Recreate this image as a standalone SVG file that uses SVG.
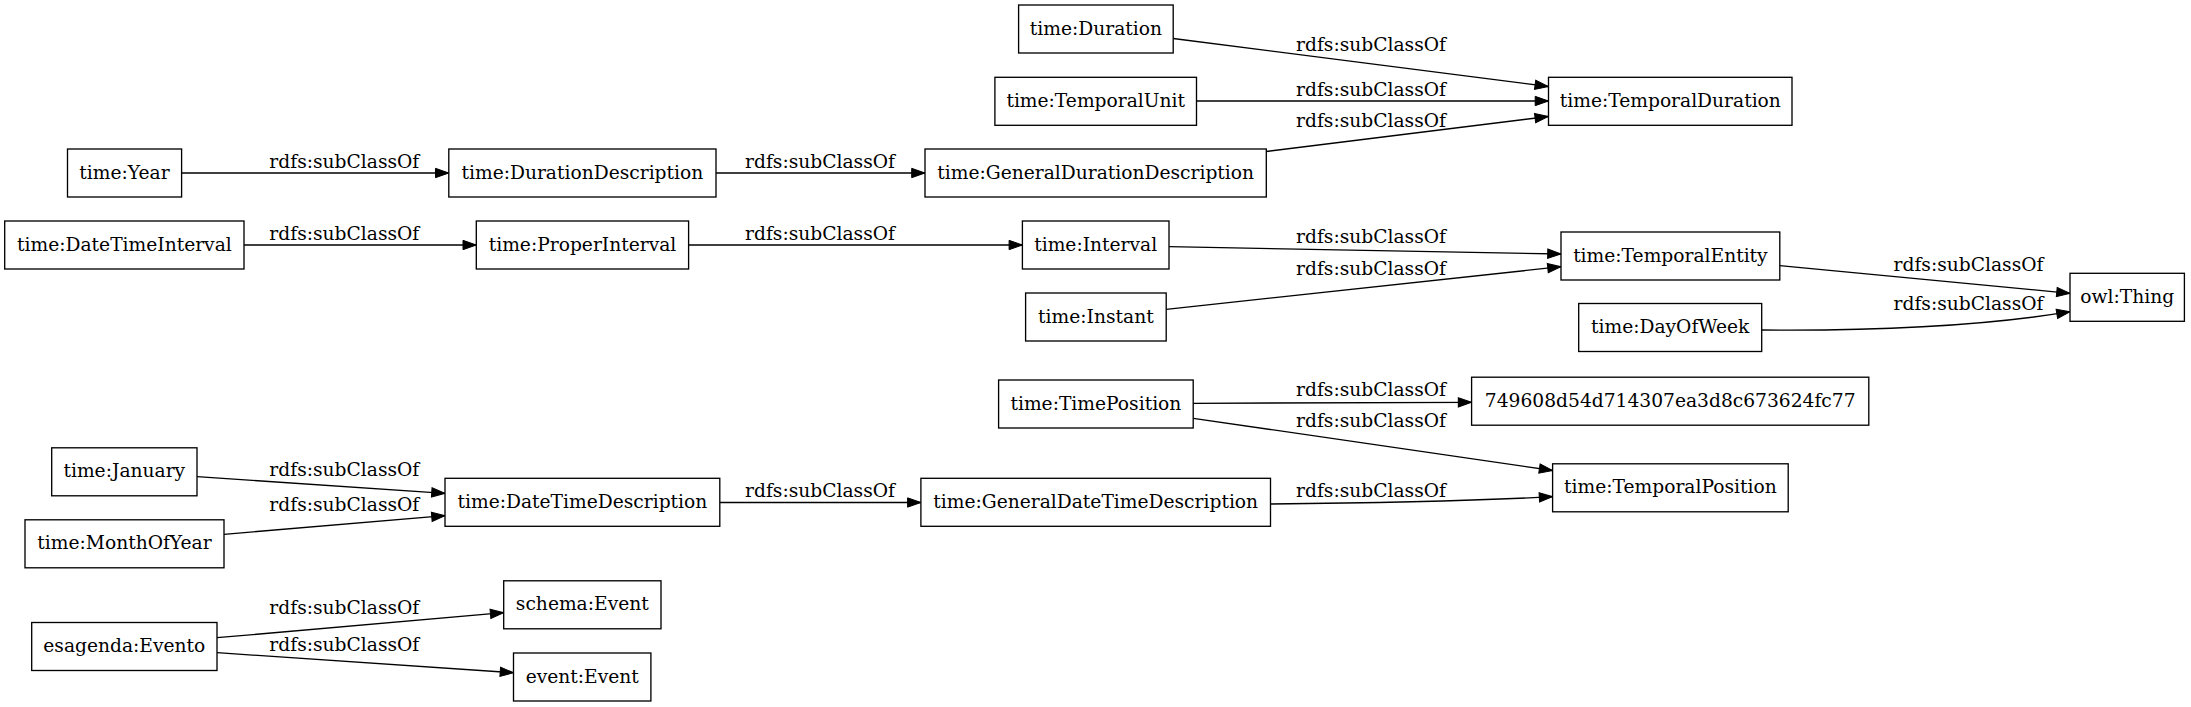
<svg xmlns="http://www.w3.org/2000/svg" width="2191" height="707" viewBox="0 0 2191 707">
<style>
.n rect{fill:#fff;stroke:#000;stroke-width:1.33}
.n text{font-family:"DejaVu Serif","Liberation Serif",serif;font-size:18.67px;text-anchor:middle;fill:#000}
.e path{fill:none;stroke:#000;stroke-width:1.33;marker-end:url(#ah)}
.e text{font-family:"DejaVu Serif","Liberation Serif",serif;font-size:18.67px;text-anchor:middle;fill:#000}
</style>
<defs>
<marker id="ah" markerUnits="userSpaceOnUse" markerWidth="14" markerHeight="10" refX="13.3" refY="4.67" orient="auto" overflow="visible">
<path d="M0,0 L13.3,4.67 L0,9.33 Z" fill="#000" stroke="#000" stroke-width="1"/>
</marker>
</defs>
<rect width="2191" height="707" fill="#fff"/>
<g id="edges" class="e">
<path d="M181.6,173 L448.8,173"/><text x="344.3" y="168">rdfs:subClassOf</text>
<path d="M716,173 L925,173"/><text x="820" y="167.7">rdfs:subClassOf</text>
<path d="M1266.3,151.5 L1548.3,116.5"/><text x="1371" y="126.7">rdfs:subClassOf</text>
<path d="M1196.5,101 L1548.5,101"/><text x="1371" y="96">rdfs:subClassOf</text>
<path d="M1173.2,38.5 L1548.3,86.5"/><text x="1371" y="50.7">rdfs:subClassOf</text>
<path d="M244,245 L476.3,245"/><text x="344.3" y="240">rdfs:subClassOf</text>
<path d="M688.6,245 L1022.4,245"/><text x="820" y="240">rdfs:subClassOf</text>
<path d="M1169,246.7 L1561,254"/><text x="1371" y="242.7">rdfs:subClassOf</text>
<path d="M1166.2,309.3 L1561,266.7"/><text x="1371" y="275">rdfs:subClassOf</text>
<path d="M1779.8,265.7 L2070,293.3"/><text x="1968.5" y="270.7">rdfs:subClassOf</text>
<path d="M1761.7,330 C1880,331 1990,325 2070,311.7"/><text x="1968.5" y="310">rdfs:subClassOf</text>
<path d="M1193.2,403.3 L1471.6,402.3"/><text x="1371" y="396">rdfs:subClassOf</text>
<path d="M1193.3,418.3 L1552.6,470.5"/><text x="1371" y="427.3">rdfs:subClassOf</text>
<path d="M1270.5,504 C1370,503 1470,501 1552.6,496.7"/><text x="1371" y="496.7">rdfs:subClassOf</text>
<path d="M719.8,502.5 L920.9,502.5"/><text x="820" y="496.7">rdfs:subClassOf</text>
<path d="M197,476.7 L445,493.3"/><text x="344.3" y="476">rdfs:subClassOf</text>
<path d="M224,534.3 L445,515.7"/><text x="344.3" y="511">rdfs:subClassOf</text>
<path d="M217,637.7 L503.7,612.7"/><text x="344.3" y="614">rdfs:subClassOf</text>
<path d="M217,652.7 L513.5,672.7"/><text x="344.3" y="651">rdfs:subClassOf</text>
</g>
<g id="n_Duration" class="n"><rect x="1018.6" y="5" width="154.6" height="48"/><text x="1095.9" y="34.5">time:Duration</text></g>
<g id="n_TemporalUnit" class="n"><rect x="994.9" y="77.3" width="201.6" height="48"/><text x="1095.7" y="106.8">time:TemporalUnit</text></g>
<g id="n_TemporalDuration" class="n"><rect x="1548.5" y="77.3" width="243.5" height="48"/><text x="1670.3" y="106.8">time:TemporalDuration</text></g>
<g id="n_Year" class="n"><rect x="67.5" y="149" width="114.1" height="48"/><text x="124.5" y="178.5">time:Year</text></g>
<g id="n_DurationDescription" class="n"><rect x="448.8" y="149" width="267.2" height="48"/><text x="582.4" y="178.5">time:DurationDescription</text></g>
<g id="n_GeneralDurationDescription" class="n"><rect x="925" y="149" width="341.3" height="48"/><text x="1095.7" y="178.5">time:GeneralDurationDescription</text></g>
<g id="n_DateTimeInterval" class="n"><rect x="4.7" y="221" width="239.3" height="48"/><text x="124.4" y="250.5">time:DateTimeInterval</text></g>
<g id="n_ProperInterval" class="n"><rect x="476.3" y="221" width="212.3" height="48"/><text x="582.5" y="250.5">time:ProperInterval</text></g>
<g id="n_Interval" class="n"><rect x="1022.4" y="221" width="146.6" height="48"/><text x="1095.7" y="250.5">time:Interval</text></g>
<g id="n_Instant" class="n"><rect x="1025.6" y="293" width="140.6" height="48"/><text x="1095.9" y="322.5">time:Instant</text></g>
<g id="n_TemporalEntity" class="n"><rect x="1561" y="232" width="218.8" height="48"/><text x="1670.4" y="261.5">time:TemporalEntity</text></g>
<g id="n_Thing" class="n"><rect x="2070" y="273.3" width="114.4" height="48"/><text x="2127.2" y="302.8">owl:Thing</text></g>
<g id="n_DayOfWeek" class="n"><rect x="1578.7" y="303.5" width="183" height="48"/><text x="1670.2" y="333">time:DayOfWeek</text></g>
<g id="n_TimePosition" class="n"><rect x="998.6" y="380" width="194.6" height="48"/><text x="1095.9" y="409.5">time:TimePosition</text></g>
<g id="n_749608" class="n"><rect x="1471.6" y="377.2" width="397.2" height="48"/><text x="1670.2" y="406.7">749608d54d714307ea3d8c673624fc77</text></g>
<g id="n_TemporalPosition" class="n"><rect x="1552.6" y="463.8" width="235.6" height="48"/><text x="1670.4" y="493.3">time:TemporalPosition</text></g>
<g id="n_January" class="n"><rect x="51.7" y="447.8" width="145.3" height="48"/><text x="124.3" y="477.3">time:January</text></g>
<g id="n_MonthOfYear" class="n"><rect x="25" y="519.8" width="199" height="48"/><text x="124.5" y="549.3">time:MonthOfYear</text></g>
<g id="n_DateTimeDescription" class="n"><rect x="445" y="478.3" width="274.8" height="48"/><text x="582.4" y="507.8">time:DateTimeDescription</text></g>
<g id="n_GeneralDateTimeDescription" class="n"><rect x="920.9" y="478.3" width="349.6" height="48"/><text x="1095.7" y="507.8">time:GeneralDateTimeDescription</text></g>
<g id="n_Evento" class="n"><rect x="31.7" y="622.5" width="185.3" height="48"/><text x="124.3" y="652">esagenda:Evento</text></g>
<g id="n_schemaEvent" class="n"><rect x="503.7" y="580.8" width="157.3" height="48"/><text x="582.3" y="610.3">schema:Event</text></g>
<g id="n_eventEvent" class="n"><rect x="513.5" y="653" width="137.4" height="48"/><text x="582.2" y="682.5">event:Event</text></g>
</svg>
